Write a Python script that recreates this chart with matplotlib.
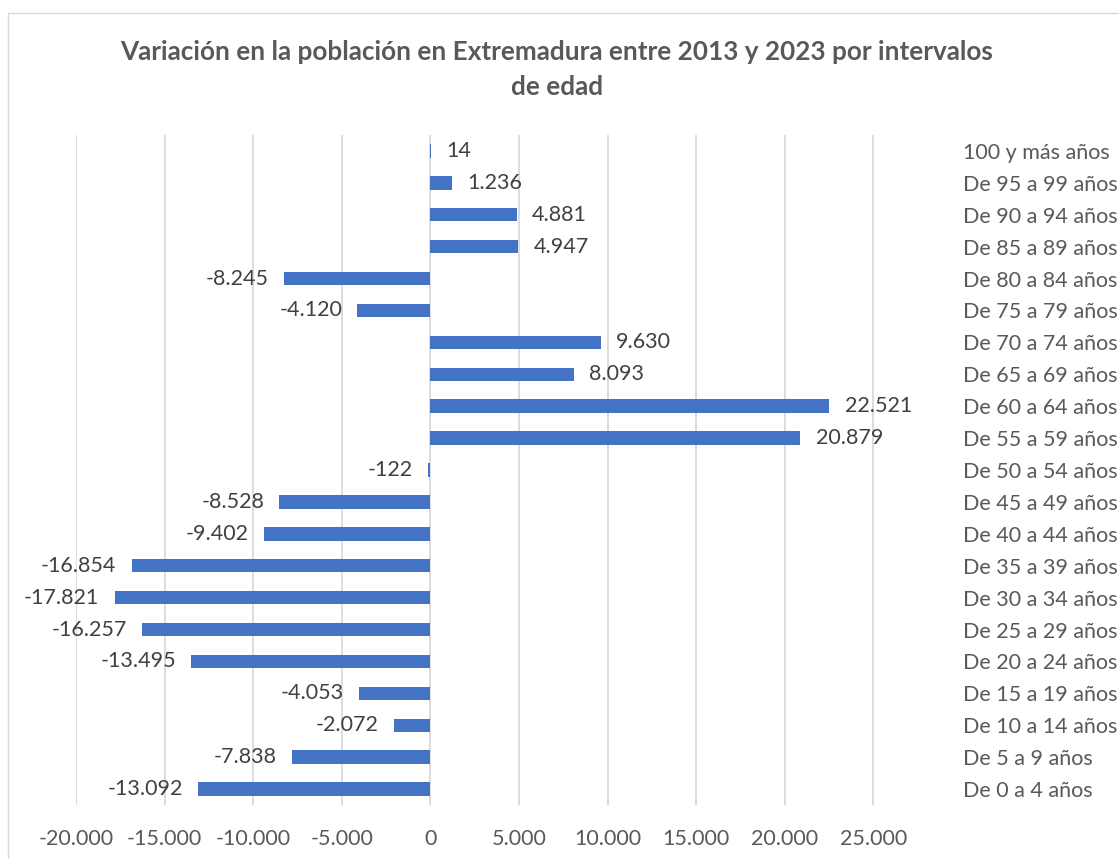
import matplotlib
matplotlib.use("Agg")
import matplotlib.pyplot as plt
from matplotlib.patches import Rectangle
from matplotlib.ticker import FuncFormatter

categories = ["De 0 a 4 años", "De 5 a 9 años", "De 10 a 14 años", "De 15 a 19 años",
              "De 20 a 24 años", "De 25 a 29 años", "De 30 a 34 años", "De 35 a 39 años",
              "De 40 a 44 años", "De 45 a 49 años", "De 50 a 54 años", "De 55 a 59 años",
              "De 60 a 64 años", "De 65 a 69 años", "De 70 a 74 años", "De 75 a 79 años",
              "De 80 a 84 años", "De 85 a 89 años", "De 90 a 94 años", "De 95 a 99 años",
              "100 y más años"]
values = [-13092, -7838, -2072, -4053, -13495, -16257, -17821, -16854, -9402, -8528,
          -122, 20879, 22521, 8093, 9630, -4120, -8245, 4947, 4881, 1236, 14]
xticks = [-20000, -15000, -10000, -5000, 0, 5000, 10000, 15000, 20000, 25000]
title_lines = ["Variación en la población en Extremadura entre 2013 y 2023 por intervalos",
               "de edad"]

FONT = "Lato"
TXT = "#595959"
FS = 15.5

def fmt(v):
    s = f"{abs(int(v)):,}".replace(",", ".")
    return ("-" if v < 0 else "") + s

W, H = 1119, 859
fig = plt.figure(figsize=(W / 100, H / 100), dpi=100)
fig.patch.set_facecolor("white")
fig.patches.append(Rectangle((8 / W, -0.1), 1.2, (H - 13) / H + 0.1, transform=fig.transFigure,
                             fill=False, edgecolor="#d9d9d9", linewidth=1.0))

ax = fig.add_axes([76 / W, 54 / H, (962 - 76) / W, (805 - 135) / H])
y = list(range(len(categories)))
ax.barh(y, values, height=0.42, color="#4472C4", zorder=3)
ax.set_xlim(-20000, 30000)
ax.set_ylim(-0.5, len(categories) - 0.5)
ax.set_xticks(xticks)
ax.xaxis.set_major_formatter(FuncFormatter(lambda v, p: fmt(v)))
ax.grid(axis="x", color="#d9d9d9", linewidth=1.3, zorder=0)
for s in ax.spines.values():
    s.set_visible(False)
ax.tick_params(axis="x", length=0, pad=17, labelsize=FS, labelcolor=TXT)
ax.set_yticks(y)
ax.set_yticklabels(categories, fontsize=FS, color=TXT, fontfamily=FONT)
ax.yaxis.tick_right()
ax.tick_params(axis="y", length=0, pad=1)
for lab in ax.get_xticklabels():
    lab.set_fontfamily(FONT)

for yi, v in zip(y, values):
    ax.annotate(fmt(v), (v, yi), xytext=(11 if v >= 0 else -11, 0), textcoords="offset points",
                ha="left" if v >= 0 else "right", va="center", fontsize=FS,
                color="#404040", fontfamily=FONT)

fig.text(557 / W, 1 - 52 / H, title_lines[0],
         ha="center", va="center", fontsize=18.8, fontweight="bold", color=TXT, fontfamily=FONT)
fig.text(557 / W, 1 - 87 / H, title_lines[1],
         ha="center", va="center", fontsize=18.8, fontweight="bold", color=TXT, fontfamily=FONT)

fig.savefig("out.png", dpi=100)
